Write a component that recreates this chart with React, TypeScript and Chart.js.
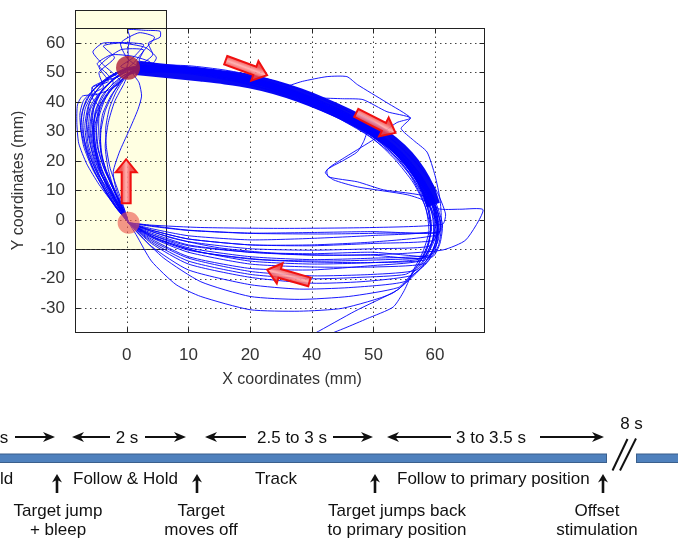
import React, { useEffect, useRef } from 'react';
import { Chart, registerables } from 'chart.js';

Chart.register(...registerables);

const FONT = "'Liberation Sans', Arial, Helvetica, sans-serif";

// ---------------- axes ----------------
const xTickValues = [0, 10, 20, 30, 40, 50];
const xTickLabels = ['0', '10', '20', '40', '50', '60'];
const yTickValues = [-30, -20, -10, 0, 10, 20, 30, 40, 50, 60];
const yTickLabels = ['-30', '-20', '-10', '0', '10', '20', '30', '40', '50', '60'];
const xLimits = [-8.4, 58.1];
const yLimits = [-38.4, 65.1];
const xAxisTitle = 'X coordinates (mm)';
const yAxisTitle = 'Y coordinates (mm)';

// hold window (shaded box), data units
const holdBoxX = [-8.4, 6.4];
const holdBoxY = [-10, 71.3];

// target positions (red discs)
const targetX = [0.2, 0.3];
const targetY = [51.6, -1];
const targetRadius = [12, 11];
const targetColor = ['rgba(175,32,56,0.8)', 'rgba(236,86,76,0.62)'];

// direction arrows (centre in data units, heading in degrees)
const arrowX = [19.4, 40.4, -0.1, 26.2];
const arrowY = [51.6, 32.9, 13.1, -19];
const arrowHeading = [20, 27, -90, 196];

// target track (thick band)
const trackX = [1.5, 4, 8, 12, 16, 20, 24, 28, 32, 36, 40, 43, 45.5, 47.4, 48.8, 49.7];
const trackY = [51.5, 51, 50.2, 49.3, 48.3, 47, 45, 42.3, 39, 35.2, 30.7, 26.2, 21.3, 16, 10.5, 5];

type Pt = [number, number];

// ---------------- recorded trials (x, y in mm) ----------------
const trial01: Pt[] = [[0.3,-1],[-1.5,4],[-3.5,10],[-5.5,17],[-7,25],[-7.5,32],[-7,38],[-5.5,44],[-3,48.5],[0,51],[4,52.5],[10,52.3],[16,50.8],[22,48.3],[28,44.2],[34,38.8],[40,32.2],[44,25.5],[47.5,18],[50.2,10],[51.7,2],[51.2,-1.5],[40,-2.6],[25,-2.9],[12,-2.6],[4,-1.8],[0.3,-1]];
const trial02: Pt[] = [[0.3,-1],[-0.8,4],[-2,10],[-3,17],[-3.5,25],[-3,33],[-2,40],[-0.5,46],[0.5,50],[4,50.3],[10,49.6],[16,47.6],[22,44.8],[28,40.3],[34,34.8],[39,28.8],[43,22.3],[46,15],[48,7],[49,0],[49.3,-4],[40,-5.3],[30,-6.3],[20,-6.8],[10,-5.4],[4,-3],[0.3,-1]];
const trial03: Pt[] = [[0.3,-1],[-1.2,4],[-2.8,10],[-4.5,17],[-5.5,24],[-6,31],[-5.5,38],[-4,44],[-2,48],[1,53],[3,58],[4.5,62],[2,63.5],[-1,60],[0,55],[2,52],[7,51.5],[13,50.3],[19,48],[25,44.5],[31,39.5],[37,34],[41.5,27.5],[45,20],[48,12],[49.8,3],[50,-5],[49,-9],[40,-9.8],[30,-10.3],[20,-9.8],[10,-7.4],[4,-4],[0.3,-1]];
const trial04: Pt[] = [[0.3,-1],[-1,4],[-2.5,9],[-4,15],[-5,22],[-5.5,29],[-5,36],[-3.5,42],[-2,46],[-0.5,49],[2,51],[8,51.2],[14,50],[20,47.5],[26,43.5],[32,38.5],[37,33.5],[41,28],[44.5,21.5],[47.5,14],[49.5,6],[50.5,-2],[50,-8],[49,-12],[40,-13],[30,-13.5],[20,-12.5],[10,-9.5],[4,-5],[0.3,-1]];
const trial05: Pt[] = [[0.3,-1],[-1.6,5],[-3.5,11],[-5,18],[-6,26],[-6.5,33],[-6,40],[-4.5,45],[-2.5,49],[0,51.5],[5,52],[11,51],[17,49.3],[23,46.5],[29,41.8],[35,36.2],[40,30.5],[44,23.5],[47,16],[49.5,8],[50.8,0],[50.5,-7],[49.5,-11],[48,-15],[40,-16],[30,-16],[20,-15],[10,-11],[4,-6],[0.3,-1]];
const trial06: Pt[] = [[0.3,-1],[-0.5,4],[-1.8,9],[-3,15],[-4,21],[-4.5,28],[-4.5,35],[-3.5,41],[-2,45.5],[0,49],[3,50.5],[9,50.5],[15,49],[21,46.5],[27,42.5],[33,37],[38.5,31],[42.5,24.5],[45.5,17.5],[48,10],[49.5,2],[49.8,-5],[49,-11],[47,-17],[40,-18.5],[30,-19],[20,-17.5],[10,-13],[4,-7],[0.3,-1]];
const trial07: Pt[] = [[0.3,-1],[-1.3,4],[-3,10],[-4.8,16],[-6.3,23],[-7.2,30],[-7.3,36],[-6.5,41],[-4.5,46],[-2,49.5],[1,52],[6,52.3],[12,51.2],[18,49],[24,45.8],[30,41],[36,35],[40.5,29],[44.5,22],[47.5,14.5],[49.8,6],[51,-2],[50.5,-9],[48.5,-15],[46,-19],[38,-21],[30,-21.5],[20,-19.5],[10,-15],[4,-8],[0.3,-1]];
const trial08: Pt[] = [[0.3,-1],[-1,5],[-2.3,11],[-3.8,18],[-4.8,25],[-5,32],[-4.5,38],[-3,43],[-1,47],[1,50.5],[7,50.8],[13,49.6],[19,47.3],[25,43.5],[31,38.5],[36.5,33],[41,26.5],[44.5,19.5],[47,12],[48.8,4],[49.3,-4],[48.5,-10],[47,-16],[45,-21],[36,-23],[28,-23.5],[20,-22],[10,-17],[4,-9],[0.3,-1]];
const trial09: Pt[] = [[0.3,-1],[-1.8,5],[-3.8,12],[-5.3,19],[-6.3,26],[-6.5,33],[-5.8,39],[-4,44],[-1.5,48.5],[1.5,51.5],[7,51.8],[13,50.6],[19,48.4],[25,44.8],[31,40],[37,34],[41.5,27],[45,19.5],[48,11.5],[50,3],[50.5,-4],[49.5,-11],[47,-18],[43,-25],[35,-30],[28,-31],[20,-30.5],[12,-26],[8,-22],[4,-14],[1.5,-5],[0.3,-1]];
const trial10: Pt[] = [[0.3,-1],[-0.7,4],[-2,9.5],[-3.3,16],[-4.2,23],[-4.2,30],[-3.5,37],[-2.2,43],[-1,47],[0.5,50],[4,51.2],[10,50.5],[16,48.6],[22,46],[28,41.5],[34,36],[39,30],[43,23.5],[46.3,16],[48.5,8],[49.8,0],[49.6,-7],[48,-14],[46,-19],[44,-23],[36,-26],[28,-27],[20,-26],[12,-21],[6,-13],[2,-5],[0.3,-1]];
const trial11: Pt[] = [[0.3,-1],[-1.1,4],[-2.6,10],[-4.2,16],[-5.2,23],[-5.8,30],[-5.5,37],[-4.2,43],[-2.2,47.5],[0.5,51],[5,51.8],[11,51],[17,49],[23,46],[29,41.5],[35,36],[39.5,30],[43.5,23],[46.5,16],[49,8],[50.5,3.8],[54,3.6],[57.8,3.4],[55,-6.8],[51.3,-10.2],[44,-11.5],[35,-12],[25,-11.5],[15,-9.5],[7,-6],[0.3,-1]];
const trial12: Pt[] = [[0.3,-1],[-1.4,4.5],[-3.2,11],[-4.5,18],[-5.3,25],[-5.5,32],[-4.8,38],[-3.2,44],[-1.2,48],[1.5,51],[7,51.5],[13,50.5],[19,48],[25,45],[28.5,47],[32.5,48.6],[35.7,48.6],[37.4,45.9],[42,40],[46,34.6],[43.8,33],[40,27.2],[36,22],[33,18],[32.2,16],[33.5,13.6],[37.4,11.2],[45.5,8.5],[48.7,6],[50,0],[49.7,-6],[48,-13],[40,-14.5],[30,-15],[20,-14],[10,-10],[4,-5.5],[0.3,-1]];
const trial13: Pt[] = [[0.3,-1],[-0.9,4.5],[-2.2,10.5],[-3.6,17],[-4.6,24],[-4.9,31],[-4.3,38],[-2.8,43.5],[-0.8,47.5],[1.5,50.8],[7,51],[13,49.8],[19,47.6],[25,44],[29,42],[31,41.4],[35,41.1],[38.3,40.8],[42.2,36.7],[46,34.6],[44.5,31],[46.5,27],[48.7,23],[50,15],[50.8,7],[51,0],[50.5,-5],[40,-7.5],[30,-8.5],[20,-8.5],[10,-6.5],[4,-3.5],[0.3,-1]];
const trial14: Pt[] = [[0.3,-1],[-1.7,4],[-3.6,10.5],[-5.2,17.5],[-6.4,25],[-6.8,32],[-6.2,39],[-4.8,44],[-2.8,48],[0,51],[5,51.3],[11,50.8],[17,48.7],[23,45.8],[29,41.2],[35,36],[39,31.5],[38.5,27],[37.4,23.1],[35,20],[32.5,17],[32.7,14.6],[37.4,12.9],[41.6,10.2],[48.7,7.8],[50.3,2],[50.2,-5],[49.2,-10],[47.5,-14],[40,-15.5],[30,-17],[20,-16.5],[10,-12.5],[4,-6.5],[0.3,-1]];
const trial15: Pt[] = [[0.3,-1],[-1.3,5],[-3,11.5],[-4.4,18.5],[-5.3,26],[-5.6,33],[-5.2,39.5],[-3.8,44.5],[-1.8,48.5],[1,51.5],[6,51.6],[12,50.7],[18,48.5],[24,45.2],[30,40.6],[36,35.4],[40.5,29.5],[44,23],[47,15.5],[49.4,7.5],[50.6,-1],[50.3,-8],[48.8,-14],[46.3,-19],[43.9,-23.8],[37,-31],[30.5,-38.5],[28,-41]];
const trial16: Pt[] = [[0.3,-1],[-0.6,5],[-1.6,11],[-2.7,17.5],[-3.3,24.5],[-3.4,31.5],[-2.8,38],[-1.7,43.5],[-0.3,48],[1.5,50.5],[6,50.6],[12,49.4],[18,47],[24,43.5],[30,38.8],[35.5,33.5],[40,27.5],[43.5,20.5],[46.5,12.5],[48.5,4],[49,-4],[48,-11],[46.5,-17],[45,-24],[43.2,-29.6],[39,-33.5],[35.4,-36.7],[32,-39.5]];
const trial17: Pt[] = [[0.3,-1],[-2,5],[-4.5,12],[-6.5,19],[-7.8,26],[-8.1,33],[-8,39],[-7.2,42],[-5,42.5],[-3,44],[-1,47],[-4,53],[-5.5,57],[-3.8,60],[2.7,59.5],[1,55],[-1,52],[1,51],[5,52],[11,51.6],[17,49.8],[23,47],[29,42.5],[35,37],[40,30.8],[44,24],[47,17],[49.3,9],[50.6,1],[50.8,-4],[42,-4.5],[32,-4.8],[20,-4.6],[10,-3.6],[4,-2.2],[0.3,-1]];
const trial18: Pt[] = [[0.3,-1],[-1.4,5],[-3,11],[-4.6,17],[-5.7,24],[-6.2,31],[-5.9,37.5],[-4.8,42],[-5.6,45],[-3.8,47],[-1,49],[0.2,53],[0.2,58],[0.5,62],[0.2,64.5],[3,64.3],[5.4,64],[5.4,62],[3.5,60],[4.2,56],[2.5,53],[1,51.5],[6,51.8],[12,50.9],[18,48.8],[24,45.4],[30,40.7],[36,35],[40.8,29],[44.6,22.5],[47.6,15],[49.6,7],[50.5,-1],[50,-8.5],[48.6,-13.5],[40,-14.5],[30,-14.3],[20,-13.3],[10,-10.3],[4,-5.8],[0.3,-1]];
const trial19: Pt[] = [[0.3,-1],[-0.8,5],[-1.8,11],[-2.2,16.3],[-1.2,23],[0.3,30],[1.8,37.4],[2.4,42],[2,46.5],[1,50],[4,51],[10,50.2],[16,48.2],[22,45.4],[28,41],[34,35.6],[39,29.5],[43,22.8],[46,15.5],[48.3,7.5],[49.3,-1],[49,-8],[47.8,-13],[40,-12],[30,-12],[20,-11],[10,-8.5],[4,-4.5],[0.3,-1]];
const trial20: Pt[] = [[0.3,-1],[-1.9,4.5],[-3.9,11],[-5.6,18],[-6.7,25],[-7.1,32],[-6.7,38],[-5.4,43],[-3.8,45],[-4.5,50],[-2,55],[-3.8,59],[-1,60],[3,58.5],[4.8,55],[3.5,51.5],[0.5,50.5],[6,51],[12,50.1],[18,48],[24,44.8],[30,40.2],[35.5,34.8],[40.3,28.3],[44,21.7],[46.8,14],[49,6],[50.4,-2.5],[50,-10.5],[48.8,-12.5],[40,-11],[30,-11.5],[20,-11],[10,-8.8],[4,-5],[0.3,-1]];
const trial21: Pt[] = [[0.3,-1],[-1.2,5],[-2.9,11.5],[-4.3,18],[-5.1,25],[-5.2,32],[-4.4,38],[-5.5,41],[-5.6,45],[-3,47],[-4.5,52],[-1,57.7],[2.7,57.7],[2,54],[4.5,53],[3,50],[7,50.6],[13,49.6],[19,47.6],[25,44.2],[31,39.2],[36.5,33.8],[41,27.5],[44.8,20.5],[47.8,12.5],[49.8,4],[50.3,-3],[49.8,-7],[40,-8],[30,-8.8],[20,-8.5],[10,-6.5],[4,-3.5],[0.3,-1]];
const trial22: Pt[] = [[0.3,-1],[-0.9,5],[-2.1,11],[-3.4,17],[-4.1,23],[-4.3,30],[-3.9,36],[-2.6,42],[-1.2,46],[0.3,49.5],[5,50.5],[11,50],[17,48.2],[23,45.3],[29,40.8],[35,35.3],[39.8,29.3],[43.7,22.3],[46.7,14.5],[48.7,6.5],[49.4,-2],[48.8,-9],[47.2,-15.5],[45.2,-18.5],[38,-19.5],[30,-20],[20,-18.5],[10,-14],[4,-7.5],[0.3,-1]];
const trial23: Pt[] = [[0.3,-1],[-1.6,4],[-3.4,9.5],[-5.1,16],[-6.5,23],[-7.4,30],[-7.6,36],[-7,40.5],[-5.2,44.5],[-2.6,48.5],[0.5,51.3],[6,51.9],[12,51],[18,49.2],[24,46],[30,41.4],[36,35.8],[40.8,29.5],[44.8,22.5],[47.8,14.8],[50,6.5],[51.2,-1.5],[50.8,-8],[49.6,-12.5],[42,-13.5],[32,-14],[22,-13.5],[12,-11],[5,-6.5],[0.3,-1]];
const trial24: Pt[] = [[0.3,-1],[-1,4.5],[-2.4,10],[-3.9,16.5],[-4.9,23.5],[-5.4,30.5],[-5.1,37],[-3.9,42.5],[-2.2,46.5],[-3.2,49.5],[-4.8,53],[-2.5,56],[1,55.5],[3.8,53.5],[1.5,51.5],[6,51.4],[12,50.5],[18,48.4],[24,45],[30,40.3],[35.8,34.7],[40.5,28.5],[44.2,21.8],[47.2,14],[49.4,5.5],[50.4,-2],[50.2,-4.5],[40,-4],[30,-4.3],[20,-4.5],[10,-3.5],[4,-2],[0.3,-1]];

const trials: Pt[][] = [
  trial01, trial02, trial03, trial04, trial05, trial06, trial07, trial08, trial09, trial10,
  trial11, trial12, trial13, trial14, trial15, trial16, trial17, trial18, trial19, trial20,
  trial21, trial22, trial23, trial24,
];

// ---------------- timeline (task schedule) ----------------
const durationLabels = ['s', '2 s', '2.5 to 3 s', '3 to 3.5 s'];
const durationCenters = [4, 127, 292, 491];
const phaseLabels = ['ld', 'Follow & Hold', 'Track', 'Follow to primary position'];
const phaseStarts = [0, 73, 255, 397];
const eventLines1 = ['Target jump', 'Target', 'Target jumps back', 'Offset'];
const eventLines2 = ['+ bleep', 'moves off', 'to primary position', 'stimulation'];
const eventCenters = [58, 201, 397, 597];
const eventArrowX = [57, 197, 375, 603];
const intervalLabel = '8 s';
// [from, tip]
const spanArrows: [number, number][] = [[15, 55], [110, 72], [145, 186], [246, 205], [333, 373], [451, 387], [540, 604]];

function drawBlockArrow(ctx: CanvasRenderingContext2D, cx: number, cy: number, deg: number) {
  const L = 44, sw = 9, hw = 21, hl = 13;
  ctx.save();
  ctx.translate(cx, cy);
  ctx.rotate((deg * Math.PI) / 180);
  ctx.beginPath();
  ctx.moveTo(-L / 2, -sw / 2);
  ctx.lineTo(L / 2 - hl, -sw / 2);
  ctx.lineTo(L / 2 - hl, -hw / 2);
  ctx.lineTo(L / 2, 0);
  ctx.lineTo(L / 2 - hl, hw / 2);
  ctx.lineTo(L / 2 - hl, sw / 2);
  ctx.lineTo(-L / 2, sw / 2);
  ctx.closePath();
  const g = ctx.createLinearGradient(0, -sw / 2, 0, sw / 2);
  g.addColorStop(0, 'rgba(240,70,70,0.9)');
  g.addColorStop(0.5, 'rgba(255,170,170,0.9)');
  g.addColorStop(1, 'rgba(240,70,70,0.9)');
  ctx.fillStyle = g;
  ctx.fill();
  ctx.lineWidth = 2;
  ctx.strokeStyle = '#f01010';
  ctx.stroke();
  ctx.restore();
}

const overlayPlugin = {
  id: 'figureOverlay',
  beforeDraw(chart: any) {
    const { ctx, scales } = chart;
    const xs = scales.x, ys = scales.y;
    const l = Math.round(xs.getPixelForValue(holdBoxX[0]));
    const r = Math.round(xs.getPixelForValue(holdBoxX[1]));
    const t = Math.round(ys.getPixelForValue(holdBoxY[1]));
    const b = Math.round(ys.getPixelForValue(holdBoxY[0]));
    ctx.save();
    ctx.fillStyle = '#FFFFE2';
    ctx.fillRect(l, t, r - l, b - t);
    ctx.strokeStyle = '#222';
    ctx.lineWidth = 1;
    ctx.strokeRect(l + 0.5, t + 0.5, r - l, b - t);
    ctx.restore();
  },
  beforeDatasetsDraw(chart: any) {
    const { ctx, chartArea: a, scales } = chart;
    const xs = scales.x, ys = scales.y;
    ctx.save();
    ctx.beginPath();
    ctx.rect(a.left, a.top, a.right - a.left, a.bottom - a.top);
    ctx.clip();
    ctx.strokeStyle = '#444';
    ctx.lineWidth = 1;
    ctx.setLineDash([1.5, 3.5]);
    ctx.beginPath();
    xTickValues.forEach((v) => {
      const p = Math.round(xs.getPixelForValue(v)) + 0.5;
      ctx.moveTo(p, a.bottom);
      ctx.lineTo(p, a.top);
    });
    yTickValues.forEach((v) => {
      const p = Math.round(ys.getPixelForValue(v)) + 0.5;
      ctx.moveTo(a.left, p);
      ctx.lineTo(a.right, p);
    });
    ctx.stroke();
    ctx.restore();
  },
  afterDatasetsDraw(chart: any) {
    const { ctx, chartArea: a, scales } = chart;
    const xs = scales.x, ys = scales.y;
    ctx.save();
    arrowX.forEach((ax, i) => {
      drawBlockArrow(ctx, xs.getPixelForValue(ax), ys.getPixelForValue(arrowY[i]), arrowHeading[i]);
    });
    ctx.strokeStyle = '#222';
    ctx.lineWidth = 1;
    ctx.setLineDash([]);
    const L = Math.round(a.left) + 0.5, R = Math.round(a.right) - 0.5;
    const T = Math.round(a.top) + 0.5, B = Math.round(a.bottom) - 0.5;
    ctx.strokeRect(L, T, R - L, B - T);
    ctx.beginPath();
    xTickValues.forEach((v) => {
      const p = Math.round(xs.getPixelForValue(v)) + 0.5;
      ctx.moveTo(p, B); ctx.lineTo(p, B - 5);
      ctx.moveTo(p, T); ctx.lineTo(p, T + 5);
    });
    yTickValues.forEach((v) => {
      const p = Math.round(ys.getPixelForValue(v)) + 0.5;
      ctx.moveTo(L, p); ctx.lineTo(L + 5, p);
      ctx.moveTo(R, p); ctx.lineTo(R - 5, p);
    });
    ctx.stroke();
    ctx.fillStyle = '#333';
    ctx.font = `16px ${FONT}`;
    ctx.textAlign = 'center';
    ctx.textBaseline = 'middle';
    ctx.fillText(xAxisTitle, (a.left + a.right) / 2 + 12, 380);
    ctx.restore();
  },
};

export default function App() {
  const ref = useRef<HTMLCanvasElement>(null);

  useEffect(() => {
    const trialSets = trials.map((tr, i) => ({
      label: `trial ${i + 1}`,
      data: tr.map(([x, y]) => ({ x, y })),
      showLine: true,
      borderColor: 'rgba(0,0,255,0.9)',
      borderWidth: 1,
      pointRadius: 0,
      tension: 0.2,
      order: 5,
    }));
    const chart = new Chart(ref.current as HTMLCanvasElement, {
      type: 'scatter',
      data: {
        datasets: [
          {
            label: 'targets',
            data: targetX.map((x, i) => ({ x, y: targetY[i] })),
            pointRadius: targetRadius,
            pointBackgroundColor: targetColor,
            pointBorderWidth: 0,
            showLine: false,
            order: 0,
          } as any,
          ...trialSets,
          {
            label: 'track',
            data: trackX.map((x, i) => ({ x, y: trackY[i] })),
            showLine: true,
            borderColor: 'rgb(8,8,245)',
            borderWidth: 14,
            pointRadius: 0,
            tension: 0.3,
            order: 6,
          },
        ],
      },
      options: {
        animation: false,
        responsive: false,
        maintainAspectRatio: false,
        events: [],
        layout: { padding: { top: 28, right: 193, left: 0, bottom: 0 } },
        plugins: { legend: { display: false }, tooltip: { enabled: false } },
        scales: {
          x: {
            type: 'linear',
            min: xLimits[0],
            max: xLimits[1],
            afterBuildTicks: (s: any) => { s.ticks = xTickValues.map((v) => ({ value: v })); },
            afterFit: (s: any) => { s.height = 67; },
            ticks: {
              callback: (_v: any, i: number) => xTickLabels[i],
              font: { family: FONT, size: 17 },
              color: '#333',
              padding: 12,
              maxRotation: 0,
              autoSkip: false,
            },
            grid: { display: false, drawTicks: false },
            border: { display: false },
            title: { display: false, text: xAxisTitle },
          },
          y: {
            type: 'linear',
            min: yLimits[0],
            max: yLimits[1],
            afterBuildTicks: (s: any) => { s.ticks = yTickValues.map((v) => ({ value: v })); },
            afterFit: (s: any) => { s.width = 75; },
            ticks: {
              callback: (_v: any, i: number) => yTickLabels[i],
              font: { family: FONT, size: 17 },
              color: '#333',
              padding: 10,
              autoSkip: false,
            },
            grid: { display: false, drawTicks: false },
            border: { display: false },
            title: {
              display: true,
              text: yAxisTitle,
              font: { family: FONT, size: 16 },
              color: '#333',
              padding: { top: 9, bottom: 0 },
            },
          },
        },
      } as any,
      plugins: [overlayPlugin],
    });
    return () => chart.destroy();
  }, []);

  const head = (tip: number, dir: number, y: number) =>
    `M ${tip} ${y} L ${tip - dir * 12} ${y - 5} L ${tip - dir * 8.5} ${y} L ${tip - dir * 12} ${y + 5} Z`;

  return (
    <div style={{ position: 'absolute', left: 0, top: 0, width: 678, height: 540, overflow: 'hidden', background: '#fff' }}>
      <canvas ref={ref} width={678} height={400} style={{ position: 'absolute', left: 0, top: 0 }} />
      <svg width={678} height={540} style={{ position: 'absolute', left: 0, top: 0 }}
        fontFamily={FONT} fontSize={17} fill="#111">
        <rect x={-5} y={454} width={611.5} height={8.5} fill="#4F81BD" stroke="#3A5F8C" strokeWidth={1} />
        <rect x={636.5} y={454} width={50} height={8.5} fill="#4F81BD" stroke="#3A5F8C" strokeWidth={1} />
        <line x1={612.5} y1={470.5} x2={627.5} y2={439} stroke="#111" strokeWidth={2} />
        <line x1={620} y1={470.5} x2={636} y2={438.5} stroke="#111" strokeWidth={2} />
        {spanArrows.map(([from, tip], i) => {
          const dir = tip > from ? 1 : -1;
          return (
            <g key={`sa${i}`}>
              <line x1={from} y1={437} x2={tip - dir * 6} y2={437} stroke="#111" strokeWidth={2} />
              <path d={head(tip, dir, 437)} fill="#111" />
            </g>
          );
        })}
        {durationLabels.map((t, i) => (
          <text key={`d${i}`} x={durationCenters[i]} y={443} textAnchor="middle">{t}</text>
        ))}
        <text x={631.5} y={428.5} textAnchor="middle">{intervalLabel}</text>
        {phaseLabels.map((t, i) => (
          <text key={`p${i}`} x={i === 2 ? 276 : phaseStarts[i]} y={483.5} textAnchor={i === 2 ? 'middle' : 'start'}>{t}</text>
        ))}
        {eventArrowX.map((x, i) => (
          <path key={`ea${i}`}
            d={`M ${x} 474 L ${x + 5} 482.5 L ${x + 1.3} 480.5 L ${x + 1.3} 493 L ${x - 1.3} 493 L ${x - 1.3} 480.5 L ${x - 5} 482.5 Z`}
            fill="#111" />
        ))}
        {eventLines1.map((t, i) => (
          <text key={`e1${i}`} x={eventCenters[i]} y={515.5} textAnchor="middle">{t}</text>
        ))}
        {eventLines2.map((t, i) => (
          <text key={`e2${i}`} x={eventCenters[i]} y={534.5} textAnchor="middle">{t}</text>
        ))}
      </svg>
    </div>
  );
}
